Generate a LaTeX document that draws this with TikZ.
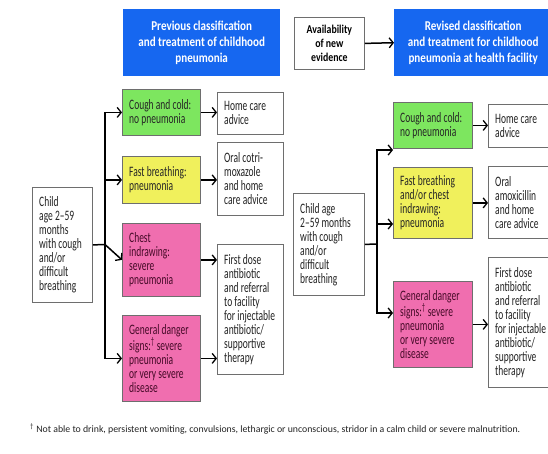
\documentclass[tikz,border=0pt]{standalone}
\usepackage{fontspec}
\setmainfont{Carlito}[FakeStretch=0.66]
\newfontfamily\titlefont{Carlito}[FakeStretch=0.82]
\newfontfamily\footfont{Carlito}
\usetikzlibrary{arrows.meta}
\definecolor{tblue}{RGB}{22,103,240}
\definecolor{tgreen}{RGB}{125,230,95}
\definecolor{tyellow}{RGB}{240,240,92}
\definecolor{tpink}{RGB}{240,110,175}
\definecolor{tborder}{RGB}{110,110,110}
\definecolor{tmaroon}{RGB}{70,10,40}
\definecolor{ttext}{RGB}{35,35,35}
\begin{document}
\begin{tikzpicture}[x=1pt,y=-1pt,
  shp/.style={draw=tborder, line width=0.8pt, rectangle, inner sep=0pt, anchor=north west, fill=white},
  txt/.style={anchor=west, inner sep=0pt, align=left, text=ttext,
    font=\fontsize{14.4}{14}\selectfont},
  title/.style={fill=tblue, rectangle, inner sep=0pt, align=center, anchor=north west,
    text=white, font=\titlefont\fontsize{13.5}{16}\selectfont\bfseries},
  arr/.style={line width=1.5pt, -{Straight Barb[length=4pt,width=10pt,line width=1.3pt]}},
  link/.style={line width=1.5pt}]
\useasboundingbox (0,0) rectangle (548,453);
\fill[white] (0,0) rectangle (548,453);

% titles
\node[title, minimum width=157pt, minimum height=67pt] (prevtitle) at (123,9)
  {Previous classification\\and treatment of childhood\\pneumonia};
\node[shp, align=center, minimum width=70pt, minimum height=52pt,
  text=black, font=\titlefont\fontsize{12}{14}\selectfont\bfseries] (avail) at (294,17)
  {Availability\\of new\\evidence};
\node[title, minimum width=158pt, minimum height=67pt] (revtitle) at (394,9)
  {Revised classification\\and treatment for childhood\\pneumonia at health facility};
\draw[arr] (avail.east) -- (revtitle.west);

% left section boxes
\node[shp, minimum width=60pt, minimum height=115pt] (lchild) at (32,187) {};
\node[txt] (lchildt) at ([xshift=7pt]lchild.west)
  {Child\\age 2–59\\months\\with cough\\and/or\\difficult\\breathing};
\node[shp, fill=tgreen, minimum width=78pt, minimum height=46pt] (lcough) at (122,89) {};
\node[txt, text=black!85] (lcought) at ([xshift=7pt]lcough.west)
  {Cough and cold:\\no pneumonia};
\node[shp, fill=tyellow, minimum width=78pt, minimum height=47pt] (lfast) at (122,156) {};
\node[txt, text=black!85] (lfastt) at ([xshift=7pt]lfast.west)
  {Fast breathing:\\pneumonia};
\node[shp, fill=tpink, minimum width=78pt, minimum height=73pt] (lchest) at (122,223) {};
\node[txt, text=tmaroon] (lchestt) at ([xshift=7pt]lchest.west)
  {Chest\\indrawing:\\severe\\pneumonia};
\node[shp, fill=tpink, minimum width=78pt, minimum height=86pt] (ldanger) at (122,315) {};
\node[txt, text=tmaroon] (ldangert) at ([xshift=7pt]ldanger.west)
  {General danger\\signs:\textsuperscript{†} severe\\pneumonia\\or very severe\\disease};
\node[shp, minimum width=66pt, minimum height=42pt] (lhome) at (217,92) {};
\node[txt] (lhomet) at ([xshift=7pt]lhome.west)
  {Home care\\advice};
\node[shp, minimum width=66pt, minimum height=73pt] (loral) at (217,142) {};
\node[txt] (loralt) at ([xshift=7pt]loral.west)
  {Oral cotri-\\moxazole\\and home\\care advice};
\node[shp, minimum width=66pt, minimum height=130pt] (lfirst) at (217,244) {};
\node[txt] (lfirstt) at ([xshift=7pt]lfirst.west)
  {First dose\\antibiotic\\and referral\\to facility\\for injectable\\antibiotic/\\supportive\\therapy};

\coordinate (ltrunk) at (105,244.5);
\draw[link] (lchild.east) -- (ltrunk);
\draw[arr] (ltrunk) |- (lcough.west);
\draw[arr] (ltrunk) |- (lfast.west);
\draw[arr] (ltrunk) -- (lchest.west);
\draw[arr] (ltrunk) |- (ldanger.west);
\draw[arr] (lcough.east) -- (lcough.east -| lhome.west);
\draw[arr] (lfast.east) -- (lfast.east -| loral.west);
\draw[arr] (lchest.east) -- (lchest.east -| lfirst.west);
\draw[arr] (ldanger.east) -- (ldanger.east -| lfirst.west);

% right section boxes
\node[shp, minimum width=71pt, minimum height=102pt] (rchild) at (293,193) {};
\node[txt] (rchildt) at ([xshift=7pt]rchild.west)
  {Child age\\2–59 months\\with cough\\and/or\\difficult\\breathing};
\node[shp, fill=tgreen, minimum width=79pt, minimum height=46pt] (rcough) at (393,102) {};
\node[txt, text=black!85] (rcought) at ([xshift=7pt]rcough.west)
  {Cough and cold:\\no pneumonia};
\node[shp, fill=tyellow, minimum width=79pt, minimum height=71pt] (rfast) at (393,167) {};
\node[txt, text=black!85] (rfastt) at ([xshift=7pt]rfast.west)
  {Fast breathing\\and/or chest\\indrawing:\\pneumonia};
\node[shp, fill=tpink, minimum width=79pt, minimum height=86pt] (rdanger) at (393,281) {};
\node[txt, text=tmaroon] (rdangert) at ([xshift=7pt]rdanger.west)
  {General danger\\signs:\textsuperscript{†} severe\\pneumonia\\or very severe\\disease};
\node[shp, minimum width=76pt, minimum height=43pt] (rhome) at (488,104) {};
\node[txt] (rhomet) at ([xshift=7pt]rhome.west)
  {Home care\\advice};
\node[shp, minimum width=76pt, minimum height=72pt] (roral) at (488,166) {};
\node[txt] (roralt) at ([xshift=7pt]roral.west)
  {Oral\\amoxicillin\\and home\\care advice};
\node[shp, minimum width=76pt, minimum height=130pt] (rfirst) at (488,257) {};
\node[txt] (rfirstt) at ([xshift=7pt]rfirst.west)
  {First dose\\antibiotic\\and referral\\to facility\\for injectable\\antibiotic/\\supportive\\therapy};

\coordinate (rtrunk) at (377,244);
\coordinate (rcin) at (393,150);
\coordinate (rfin) at (393,224);
\coordinate (rdin) at (393,313);
\draw[link] (rchild.east) -- (rtrunk);
\draw[arr] (rtrunk) |- (rcin);
\draw[arr] (rtrunk) |- (rfin);
\draw[arr] (rtrunk) |- (rdin);
\draw[arr] (rcough.east) -- (rcough.east -| rhome.west);
\draw[arr] (rfast.east) -- (rfast.east -| roral.west);
\draw[arr] (rdanger.east) -- (rdanger.east -| rfirst.west);

% footnote
\node[anchor=base west, inner sep=0pt, text=ttext, font=\footfont\fontsize{9.8}{12}\selectfont] (foot) at (30,432)
  {\textsuperscript{†} Not able to drink, persistent vomiting, convulsions, lethargic or unconscious, stridor in a calm child or severe malnutrition.};
\end{tikzpicture}
\end{document}
